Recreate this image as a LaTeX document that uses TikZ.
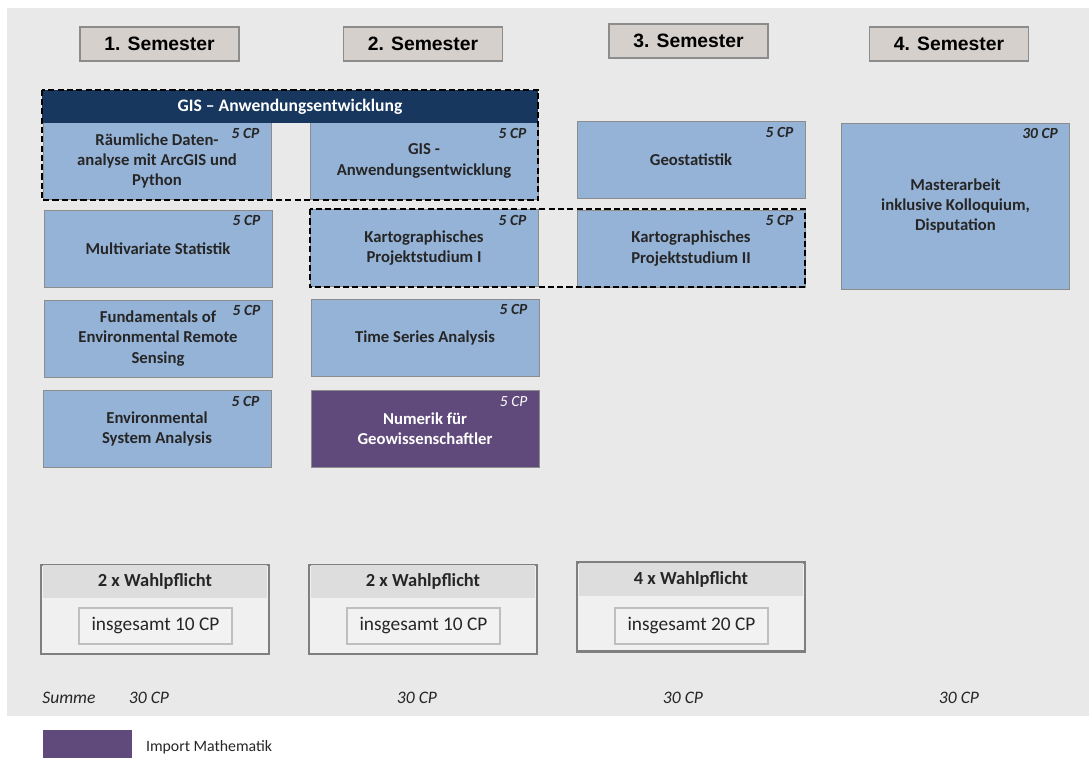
\documentclass[tikz,border=0pt]{standalone}
\usepackage{fontspec}
\setmainfont{Carlito}
\newfontfamily\arialfont{Liberation Sans}
\usetikzlibrary{positioning}

\definecolor{hgrund}{HTML}{E9E9E9}
\definecolor{semgrau}{HTML}{D5D0CC}
\definecolor{rahmen}{HTML}{8C8C8C}
\definecolor{modulblau}{HTML}{95B3D7}
\definecolor{gisblau}{HTML}{17375E}
\definecolor{mathelila}{HTML}{604A7B}
\definecolor{wahlrand}{HTML}{7F7F7F}
\definecolor{wahlkopfgrau}{HTML}{DDDDDD}
\definecolor{summenrand}{HTML}{BFBFBF}

\newcommand{\cpmark}[3][]{\node[cp,#1,anchor=north east] (#2cp) at ([xshift=-0.2cm,yshift=-0.08cm]#2.north east) {#3};}

\begin{document}
\begin{tikzpicture}[x=0.02cm,y=-0.02cm,
    semkopf/.style={draw=rahmen,fill=semgrau,line width=0.6pt,minimum width=3.18cm,minimum height=0.68cm,inner sep=0pt,font=\arialfont\bfseries\fontsize{11}{13}\selectfont},
    modul/.style={draw=rahmen,fill=modulblau,line width=0.5pt,minimum width=4.56cm,minimum height=1.54cm,inner sep=2pt,align=center,text=black!85,font=\bfseries\fontsize{9.5}{11.5}\selectfont},
    mathe/.style={modul,fill=mathelila,text=white},
    cp/.style={inner sep=1pt,font=\bfseries\itshape\fontsize{8.8}{10}\selectfont,text=black!85},
    gruppe/.style={draw=black,line width=1.1pt,dash pattern=on 3.5pt off 1.8pt},
    wahl/.style={draw=wahlrand,fill=hgrund!70!white,line width=1.2pt,minimum width=4.56cm,minimum height=1.78cm,inner sep=0pt},
    wahlkopf/.style={fill=wahlkopfgrau,minimum width=4.5cm,minimum height=0.66cm,inner sep=0pt,text=black!85,font=\bfseries\fontsize{10.5}{12}\selectfont},
    summe/.style={draw=summenrand,fill=hgrund!60!white,line width=0.6pt,minimum width=3.06cm,minimum height=0.72cm,inner sep=0pt,text=black!85,font=\fontsize{11}{13}\selectfont},
    zeile/.style={inner sep=0pt,text=black!85,font=\itshape\fontsize{10}{12}\selectfont}]
\useasboundingbox (0,0) rectangle (1089,758);
\fill[hgrund] (7,8) rectangle (1089,716);

\node[semkopf] (sem1) at (159.5,44) {1. Semester}; \node[semkopf] (sem2) at (423,44) {2. Semester};
\node[semkopf] (sem3) at (688.5,41) {3. Semester}; \node[semkopf] (sem4) at (949,44) {4. Semester};

\node[modul] (raeum) at (157,161) {Räumliche Daten-\\analyse mit ArcGIS und\\Python}; \cpmark{raeum}{5 CP}
\node[modul] (gisanw) at (424,161) {GIS -\\Anwendungsentwicklung}; \cpmark{gisanw}{5 CP}
\node[modul] (geostat) at (691,160) {Geostatistik}; \cpmark{geostat}{5 CP}
\node[modul,minimum height=3.32cm] (master) at (955.5,206) {Masterarbeit\\inklusive Kolloquium,\\Disputation}; \cpmark{master}{30 CP}

\node[modul] (multi) at (158,248.5) {Multivariate Statistik}; \cpmark{multi}{5 CP}
\node[modul] (kp1) at (424,248) {Kartographisches\\Projektstudium I}; \cpmark{kp1}{5 CP}
\node[modul] (kp2) at (691,248.5) {Kartographisches\\Projektstudium II}; \cpmark{kp2}{5 CP}

\node[modul] (fund) at (158,338.5) {Fundamentals of\\Environmental Remote\\Sensing}; \cpmark{fund}{5 CP}
\node[modul] (tsa) at (425,337.5) {Time Series Analysis}; \cpmark{tsa}{5 CP}

\node[modul] (esa) at (157,429) {Environmental\\System Analysis}; \cpmark{esa}{5 CP}
\node[mathe] (numerik) at (425,429) {Numerik für\\Geowissenschaftler}; \cpmark[text=white,font=\itshape\fontsize{8.8}{10}\selectfont]{numerik}{5 CP}

\node[fill=gisblau,minimum width=9.92cm,minimum height=0.66cm,inner sep=0pt,text=white,font=\bfseries\fontsize{10}{12}\selectfont] (gisband) at (290,106.5) {GIS – Anwendungsentwicklung};
\draw[gruppe] (gisband.north west) rectangle (gisanw.south east);
\draw[gruppe] (kp1.north west) rectangle (kp2.south east);

\node[wahl] (wahl1) at (155,609.5) {}; \node[wahlkopf,anchor=north] (wahl1k) at ([yshift=-0.6pt]wahl1.north) {2 x Wahlpflicht}; \node[summe] (wahl1s) at (155.5,626) {insgesamt 10 CP};
\node[wahl] (wahl2) at (423,609.5) {}; \node[wahlkopf,anchor=north] (wahl2k) at ([yshift=-0.6pt]wahl2.north) {2 x Wahlpflicht}; \node[summe] (wahl2s) at (423.5,626) {insgesamt 10 CP};
\node[wahl] (wahl3) at (691,607) {}; \node[wahlkopf,anchor=north] (wahl3k) at ([yshift=-0.6pt]wahl3.north) {4 x Wahlpflicht}; \node[summe] (wahl3s) at (691.5,626) {insgesamt 20 CP};

\node[zeile,anchor=west] (summe) at (42,698) {Summe};
\node[zeile] (cp1) at (149,698) {30 CP}; \node[zeile] (cp2) at (417,698) {30 CP};
\node[zeile] (cp3) at (683,698) {30 CP}; \node[zeile] (cp4) at (959,698) {30 CP};

\node[fill=mathelila,minimum width=1.78cm,minimum height=0.56cm,inner sep=0pt,anchor=north west] (leg) at (43,730) {};
\node[inner sep=0pt,text=black!85,font=\fontsize{9}{11}\selectfont,right=0.26cm of leg.east,yshift=-0.06cm] (legtext) {Import Mathematik};
\end{tikzpicture}
\end{document}
